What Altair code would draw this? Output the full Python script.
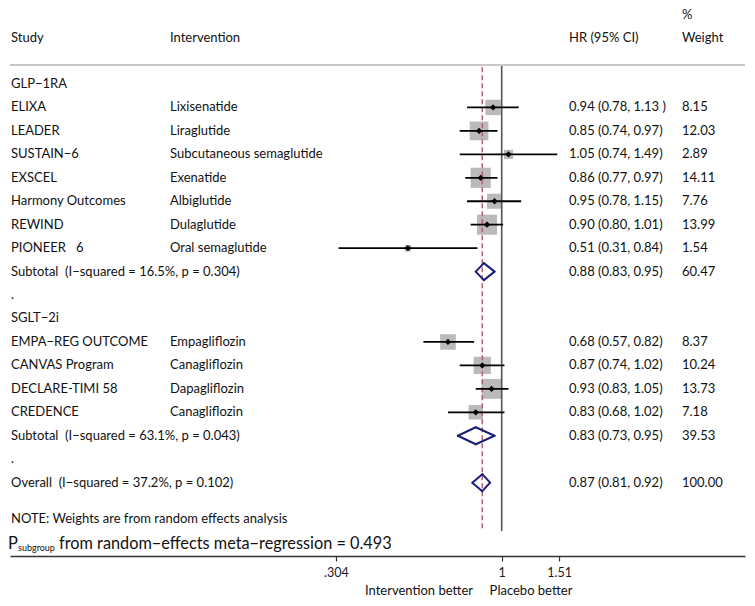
import math
import altair as alt
import pandas as pd

# ---------------- data ----------------
groups = ["GLP−1RA", "SGLT−2i"]
study_group = [0, 0, 0, 0, 0, 0, 0, 1, 1, 1, 1]
studies = ["ELIXA", "LEADER", "SUSTAIN−6", "EXSCEL", "Harmony Outcomes", "REWIND",
           "PIONEER\u00a0\u00a0 6", "EMPA−REG OUTCOME", "CANVAS Program", "DECLARE-TIMI 58", "CREDENCE"]
interventions = ["Lixisenatide", "Liraglutide", "Subcutaneous semaglutide", "Exenatide", "Albiglutide",
                 "Dulaglutide", "Oral semaglutide", "Empagliflozin", "Canagliflozin", "Dapagliflozin",
                 "Canagliflozin"]
hr = [0.94, 0.85, 1.05, 0.86, 0.95, 0.90, 0.51, 0.68, 0.87, 0.93, 0.83]
lo = [0.78, 0.74, 0.74, 0.77, 0.78, 0.80, 0.31, 0.57, 0.74, 0.83, 0.68]
hi = [1.13, 0.97, 1.49, 0.97, 1.15, 1.01, 0.84, 0.82, 1.02, 1.05, 1.02]
weights = [8.15, 12.03, 2.89, 14.11, 7.76, 13.99, 1.54, 8.37, 10.24, 13.73, 7.18]
ci_text = ["0.94 (0.78, 1.13 )", "0.85 (0.74, 0.97)", "1.05 (0.74, 1.49)", "0.86 (0.77, 0.97)",
           "0.95 (0.78, 1.15)", "0.90 (0.80, 1.01)", "0.51 (0.31, 0.84)", "0.68 (0.57, 0.82)",
           "0.87 (0.74, 1.02)", "0.93 (0.83, 1.05)", "0.83 (0.68, 1.02)"]
weight_text = ["8.15", "12.03", "2.89", "14.11", "7.76", "13.99", "1.54", "8.37", "10.24", "13.73", "7.18"]

sub_labels = ["Subtotal\u00a0 (I−squared = 16.5%, p = 0.304)", "Subtotal\u00a0 (I−squared = 63.1%, p = 0.043)"]
sub_hr = [0.88, 0.83]
sub_lo = [0.83, 0.73]
sub_hi = [0.95, 0.95]
sub_ci_text = ["0.88 (0.83, 0.95)", "0.83 (0.73, 0.95)"]
sub_weight_text = ["60.47", "39.53"]

overall_label = "Overall\u00a0 (I−squared = 37.2%, p = 0.102)"
overall_hr, overall_lo, overall_hi = 0.87, 0.81, 0.92
overall_ci_text = "0.87 (0.81, 0.92)"
overall_weight_text = "100.00"

tick_values = [0.304, 1, 1.51]
note_text = "NOTE: Weights are from random effects analysis"
p_text = "from random−effects meta−regression = 0.493"
left_title, right_title = "Intervention better", "Placebo better"

# ---------------- build row tables ----------------
text_rows, study_rows, dia_rows = [], [], []
r = 0
for g, gname in enumerate(groups):
    text_rows.append(dict(row=r, c1=gname, c2="", c3="", c4=""))
    r += 1
    for i in range(len(studies)):
        if study_group[i] != g:
            continue
        text_rows.append(dict(row=r, c1=studies[i], c2=interventions[i], c3=ci_text[i], c4=weight_text[i]))
        study_rows.append(dict(row=r, hr=hr[i], lo=lo[i], hi=hi[i], w=weights[i]))
        r += 1
    text_rows.append(dict(row=r, c1=sub_labels[g], c2="", c3=sub_ci_text[g], c4=sub_weight_text[g]))
    dia_rows.append(dict(row=r, hr=sub_hr[g], lo=sub_lo[g], hi=sub_hi[g]))
    r += 1
    text_rows.append(dict(row=r, c1=".", c2="", c3="", c4=""))
    r += 1
text_rows.append(dict(row=r, c1=overall_label, c2="", c3=overall_ci_text, c4=overall_weight_text))
dia_rows.append(dict(row=r, hr=overall_hr, lo=overall_lo, hi=overall_hi))

tdf = pd.DataFrame(text_rows)
sdf = pd.DataFrame(study_rows)
ddf = pd.DataFrame(dia_rows)

# ---------------- layout ----------------
FONT = "Lato"
FS = 13
W, H = 735, 548
SEP = -0.810
LINE_BOTTOM = 19.06

px_per_ln = 139.3
x_at_one = 491.7  # chart pixel of HR = 1
xdom = [math.exp((0 - x_at_one) / px_per_ln), math.exp((W - x_at_one) / px_per_ln)]
xscale = alt.Scale(type="log", domain=xdom, nice=False, zero=False)
yscale = alt.Scale(domain=[-3.241, 20.128], reverse=True, nice=False, zero=False)
xaxis = alt.Axis(values=tick_values, title=None, grid=False, domainColor="#333333", domainWidth=1.5,
                 tickColor="#333333", tickSize=5, tickWidth=1.2, labelFont=FONT, labelFontSize=12.5,
                 labelColor="#1a1a1a", labelPadding=5,
                 labelExpr="datum.value < 0.5 ? '.304' : (datum.value < 1.2 ? '1' : '1.51')")


def Y(field="row"):
    return alt.Y(field + ":Q", scale=yscale, axis=None)


def X(field):
    return alt.X(field + ":Q", scale=xscale, axis=xaxis)


base_text = dict(font=FONT, fontSize=FS, color="#111111", align="left", baseline="middle")

# text columns
col1 = alt.Chart(tdf).mark_text(**base_text).encode(x=alt.value(1), y=Y(), text="c1:N")
col2 = alt.Chart(tdf).mark_text(**base_text).encode(x=alt.value(160), y=Y(), text="c2:N")
col3 = alt.Chart(tdf).mark_text(**base_text).encode(x=alt.value(559), y=Y(), text="c3:N")
col4 = alt.Chart(tdf).mark_text(**base_text).encode(x=alt.value(672), y=Y(), text="c4:N")

hdr = pd.DataFrame({"row": [-1.962, -1.962, -1.962, -1.962, -2.93],
                    "t": ["Study", "Intervention", "HR (95% CI)", "Weight", "%"],
                    "px": [1, 160, 559, 672, 672]})
header = alt.Chart(hdr).mark_text(**base_text).encode(x=alt.X("px:Q", scale=None), y=Y(), text="t:N")

sep = alt.Chart(pd.DataFrame({"row": [SEP]})).mark_rule(color="#c8c8c8", strokeWidth=2).encode(
    x=alt.value(0), x2=alt.value(W), y=Y())

# markers
squares = alt.Chart(sdf).mark_square(color="#bababa", opacity=1).encode(
    x=X("hr"), y=Y(),
    size=alt.Size("w:Q", scale=alt.Scale(domain=[0, 15], range=[0, 435]), legend=None))

vline = alt.Chart(pd.DataFrame({"v": [1.0], "row": [SEP], "row2": [LINE_BOTTOM]})).mark_rule(
    color="#555555", strokeWidth=1.6).encode(x=X("v"), y=Y(), y2="row2:Q")
dline = alt.Chart(pd.DataFrame({"v": [overall_hr], "row": [SEP + 0.1], "row2": [LINE_BOTTOM]})).mark_rule(
    color="#b5606f", strokeWidth=1.5, strokeDash=[5, 3]).encode(x=X("v"), y=Y(), y2="row2:Q")

ci = alt.Chart(sdf).mark_rule(color="#000000", strokeWidth=1.8).encode(x=X("lo"), x2="hi:Q", y=Y())
dots = alt.Chart(sdf).mark_point(shape="diamond", filled=True, color="#000000", size=40, opacity=1).encode(
    x=X("hr"), y=Y())

# diamonds
DH = 8.5
dstyle = dict(color="#1c1f78", strokeWidth=2, strokeCap="round")
d1 = alt.Chart(ddf).mark_rule(y2Offset=-DH, **dstyle).encode(x=X("lo"), x2="hr:Q", y=Y(), y2="row:Q")
d2 = alt.Chart(ddf).mark_rule(yOffset=-DH, **dstyle).encode(x=X("hr"), x2="hi:Q", y=Y(), y2="row:Q")
d3 = alt.Chart(ddf).mark_rule(y2Offset=DH, **dstyle).encode(x=X("hi"), x2="hr:Q", y=Y(), y2="row:Q")
d4 = alt.Chart(ddf).mark_rule(yOffset=DH, **dstyle).encode(x=X("hr"), x2="lo:Q", y=Y(), y2="row:Q")

# notes
note = alt.Chart(pd.DataFrame({"row": [18.55], "t": [note_text]})).mark_text(**base_text).encode(
    x=alt.value(1), y=Y(), text="t:N")
p_big = alt.Chart(pd.DataFrame({"row": [19.83], "t": ["P"]})).mark_text(
    font=FONT, fontSize=16.5, color="#111111", align="left", baseline="alphabetic").encode(
    x=alt.value(-2), y=Y(), text="t:N")
p_sub = alt.Chart(pd.DataFrame({"row": [19.91], "t": ["subgroup"]})).mark_text(
    font=FONT, fontSize=9, color="#111111", align="left", baseline="alphabetic").encode(
    x=alt.value(8), y=Y(), text="t:N")
p_rest = alt.Chart(pd.DataFrame({"row": [19.83], "t": [p_text]})).mark_text(
    font=FONT, fontSize=16.3, color="#111111", align="left", baseline="alphabetic").encode(
    x=alt.value(49), y=Y(), text="t:N")

titles = alt.Chart(pd.DataFrame({"row": [21.62, 21.62], "t": [left_title, right_title],
                                 "px": [409, 521]})).mark_text(
    font=FONT, fontSize=FS, color="#111111", align="center", baseline="middle").encode(
    x=alt.X("px:Q", scale=None), y=Y(), text="t:N")

chart = alt.layer(
    squares, vline, dline, ci, dots, d1, d2, d3, d4,
    col1, col2, col3, col4, header, sep, note, p_big, p_sub, p_rest, titles
).properties(width=W, height=H, padding=0).configure(
    background="white", view=alt.ViewConfig(strokeWidth=0, stroke=None))

chart.save("out.html", embed_options={"renderer": "svg", "actions": False})
